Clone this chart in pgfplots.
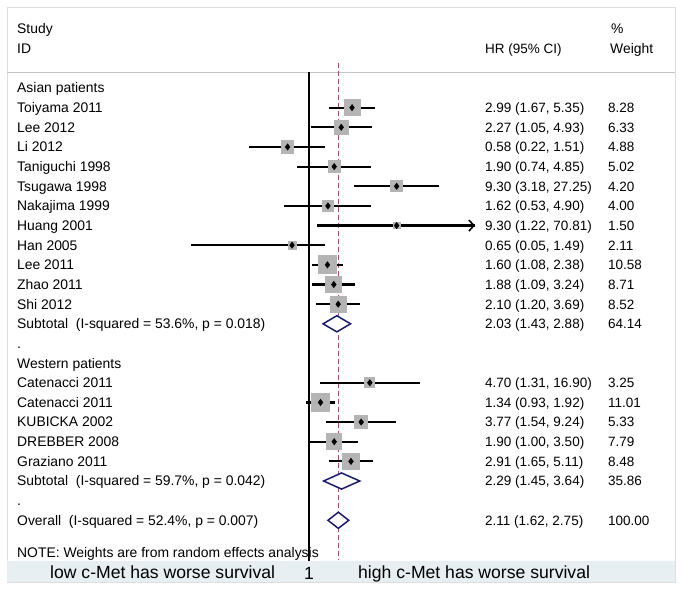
\documentclass[border=0pt]{standalone}
\usepackage{fontspec}
\setmainfont{Liberation Sans}
\usepackage{pgfplots}
\pgfplotsset{compat=1.18}
\usepackage{pgfplotstable}
\usetikzlibrary{arrows.meta}

\definecolor{sqgray}{RGB}{180,180,180}
\definecolor{navy}{RGB}{26,26,110}
\definecolor{refred}{RGB}{165,80,110}
\definecolor{bandblue}{RGB}{231,239,242}
\definecolor{framegray}{RGB}{222,222,222}
\definecolor{rulegray}{RGB}{195,195,195}

% k = row (0 = "Asian patients"), HR with 95% CI and % weight
\pgfplotstableread{
k  hr   lo   hi    w
1  2.99 1.67 5.35  8.28
2  2.27 1.05 4.93  6.33
3  0.58 0.22 1.51  4.88
4  1.90 0.74 4.85  5.02
5  9.30 3.18 27.25 4.20
6  1.62 0.53 4.90  4.00
7  9.30 1.22 70.81 1.50
8  0.65 0.05 1.49  2.11
9  1.60 1.08 2.38  10.58
10 1.88 1.09 3.24  8.71
11 2.10 1.20 3.69  8.52
15 4.70 1.31 16.90 3.25
16 1.34 0.93 1.92  11.01
17 3.77 1.54 9.24  5.33
18 1.90 1.00 3.50  7.79
19 2.91 1.65 5.11  8.48
}\studies

\pgfplotstableread{
k  hr   lo   hi   w
12 2.03 1.43 2.88 64.14
20 2.29 1.45 3.64 35.86
22 2.11 1.62 2.75 100.00
}\pooled

\tikzset{lbl/.style={anchor=base west, inner sep=0pt, font=\fontsize{13.9}{16}\selectfont},
         num/.style={anchor=base west, inner sep=0pt, font=\fontsize{13.5}{16}\selectfont},
         band/.style={inner sep=0pt, font=\fontsize{17.6}{20}\selectfont}}
\newcommand\rowy[1]{{-(88+19.65*(#1)+4.9)*1pt}}

\begin{document}
\begin{tikzpicture}
\path[use as bounding box] (0pt,0pt) rectangle (683pt,-589pt);
\fill[white] (0pt,0pt) rectangle (683pt,-589pt);
\draw[framegray, line width=0.8pt] (7pt,-7pt) rectangle (675pt,-582pt);
\fill[bandblue] (7pt,-561pt) rectangle (675pt,-582pt);
\draw[rulegray, line width=0.9pt] (7pt,-72pt) -- (675pt,-72pt);

\begin{axis}[
    at={(0pt,0pt)}, anchor=north west,
    scale only axis, width=683pt, height=589pt,
    xmode=log, xmin=3.85e-4, xmax=13582,
    y dir=reverse, ymin=-4.478, ymax=25.496,
    axis lines=none, clip=false,
]
% line of no effect and overall estimate
\addplot[black, line width=1.2pt] coordinates {(1,-0.814) (1,24.07)};
\addplot[refred, line width=1pt, dash pattern=on 5pt off 3pt] coordinates {(2.11,-1.27) (2.11,24.0)};

% weight boxes
\addplot[scatter, only marks, mark=square*,
    scatter/use mapped color={draw=sqgray, fill=sqgray},
    mark options={line width=0pt},
    visualization depends on={2.767*sqrt(\thisrow{w}) \as \msize},
    scatter/@pre marker code/.append style={/tikz/mark size=\msize}]
    table[x=hr, y=k] {\studies};

% confidence intervals (upper end clipped at the axis edge)
\pgfplotsinvokeforeach{0,...,15}{
  \pgfplotstablegetelem{#1}{k}\of\studies \edef\cik{\pgfplotsretval}
  \pgfplotstablegetelem{#1}{lo}\of\studies \edef\cilo{\pgfplotsretval}
  \pgfplotstablegetelem{#1}{hi}\of\studies \pgfmathsetmacro\cihi{min(\pgfplotsretval,68.3)}
  \addplot[black, line width=2.2pt] coordinates {(\cilo,\cik) (\cihi,\cik)};
}
\addplot[black, line width=1.6pt, -{Straight Barb[length=5pt, width=11pt]}] coordinates {(40,7) (68.3,7)};

% point estimates
\addplot[only marks, mark=diamond*, mark size=3.2pt, black] table[x=hr, y=k] {\studies};

% pooled diamonds
\pgfplotsinvokeforeach{0,1,2}{
  \pgfplotstablegetelem{#1}{k}\of\pooled \edef\dk{\pgfplotsretval}
  \pgfplotstablegetelem{#1}{hr}\of\pooled \edef\dhr{\pgfplotsretval}
  \pgfplotstablegetelem{#1}{lo}\of\pooled \edef\dlo{\pgfplotsretval}
  \pgfplotstablegetelem{#1}{hi}\of\pooled \edef\dhi{\pgfplotsretval}
  \pgfmathsetmacro\dtop{\dk-0.41}
  \pgfmathsetmacro\dbot{\dk+0.41}
  \addplot[draw=navy, fill=white, line width=1.5pt] coordinates {(\dlo,\dk) (\dhr,\dtop) (\dhi,\dk) (\dhr,\dbot)} --cycle;
}
\end{axis}

% headers
\node[lbl] at (17pt,-34pt) {Study};
\node[lbl] at (17pt,-53pt) {ID};
\node[num] at (485pt,-53pt) {HR (95\% CI)};
\node[lbl] at (611pt,-34pt) {\%};
\node[lbl] at (610pt,-53pt) {Weight};

% study labels
\foreach \k/\t in {0/Asian patients, 1/Toiyama 2011, 2/Lee 2012, 3/Li 2012,
    4/Taniguchi 1998, 5/Tsugawa 1998, 6/Nakajima 1999, 7/Huang 2001,
    8/Han 2005, 9/Lee 2011, 10/Zhao 2011, 11/Shi 2012,
    12/{Subtotal\ \ (I-squared = 53.6\%, p = 0.018)}, 13/., 14/Western patients,
    15/Catenacci 2011, 16/Catenacci 2011, 17/KUBICKA 2002, 18/DREBBER 2008,
    19/Graziano 2011, 20/{Subtotal\ \ (I-squared = 59.7\%, p = 0.042)}, 21/.,
    22/{Overall\ \ (I-squared = 52.4\%, p = 0.007)}}
  \node[lbl] at (17pt,\rowy{\k}) {\t};

% estimates and weights
\foreach \k/\c/\w in {1/{2.99 (1.67, 5.35)}/8.28, 2/{2.27 (1.05, 4.93)}/6.33,
    3/{0.58 (0.22, 1.51)}/4.88, 4/{1.90 (0.74, 4.85)}/5.02,
    5/{9.30 (3.18, 27.25)}/4.20, 6/{1.62 (0.53, 4.90)}/4.00,
    7/{9.30 (1.22, 70.81)}/1.50, 8/{0.65 (0.05, 1.49)}/2.11,
    9/{1.60 (1.08, 2.38)}/10.58, 10/{1.88 (1.09, 3.24)}/8.71,
    11/{2.10 (1.20, 3.69)}/8.52, 12/{2.03 (1.43, 2.88)}/64.14,
    15/{4.70 (1.31, 16.90)}/3.25, 16/{1.34 (0.93, 1.92)}/11.01,
    17/{3.77 (1.54, 9.24)}/5.33, 18/{1.90 (1.00, 3.50)}/7.79,
    19/{2.91 (1.65, 5.11)}/8.48, 20/{2.29 (1.45, 3.64)}/35.86,
    22/{2.11 (1.62, 2.75)}/100.00}
{
  \node[num] at (485pt,\rowy{\k}) {\c};
  \node[num] at (608pt,\rowy{\k}) {\w};
}

\node[lbl] at (17pt,-557pt) {NOTE: Weights are from random effects analysis};

% bottom band
\node[band, anchor=base west] at (50pt,-578pt) {low c-Met has worse survival};
\node[band, anchor=base] at (309pt,-579pt) {1};
\node[band, anchor=base west] at (358pt,-578pt) {high c-Met has worse survival};
\end{tikzpicture}
\end{document}
